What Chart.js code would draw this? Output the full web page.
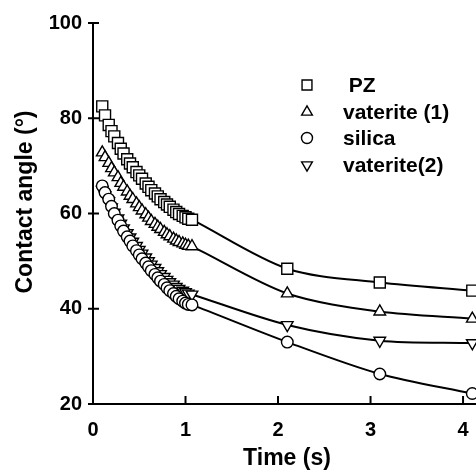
<!DOCTYPE html>
<html>
<head>
<meta charset="utf-8">
<script src="https://cdn.jsdelivr.net/npm/chart.js@4/dist/chart.umd.min.js"></script>
<style>
  html, body { margin: 0; padding: 0; background: #fff; overflow: hidden; }
  #wrap { width: 500px; height: 472px; }
</style>
</head>
<body>
<div id="wrap"><canvas id="grafica" width="500" height="472"></canvas></div>
<script>
// === Datos ===
const tiempos = [0.10, 0.13, 0.17, 0.20, 0.23, 0.27, 0.30, 0.33, 0.37, 0.40,
                 0.43, 0.47, 0.50, 0.53, 0.57, 0.60, 0.63, 0.67, 0.70, 0.73,
                 0.77, 0.80, 0.83, 0.87, 0.90, 0.93, 0.97, 1.00, 1.03, 1.07,
                 2.10, 3.10, 4.10];

const pz = [82.5, 80.6, 78.6, 77.3, 76.2, 74.8, 73.6, 72.6, 71.4, 70.5,
            69.7, 68.7, 68.0, 67.3, 66.3, 65.6, 64.9, 64.2, 63.6, 63.0,
            62.4, 61.9, 61.4, 60.8, 60.3, 59.9, 59.5, 59.2, 58.9, 58.7,
            48.4, 45.5, 43.8];

const vaterita1 = [72.8, 71.8, 70.6, 69.5, 68.6, 67.6, 66.4, 65.6, 64.6, 63.7,
                   63.0, 62.1, 61.3, 60.6, 59.8, 59.1, 58.4, 57.8, 57.2, 56.7,
                   56.1, 55.6, 55.2, 54.7, 54.3, 54.0, 53.7, 53.4, 53.2, 53.1,
                   43.2, 39.4, 37.9];

const silica = [65.8, 64.4, 63.0, 61.5, 60.0, 58.6, 57.4, 56.3, 55.1, 54.2,
                53.2, 52.2, 51.3, 50.5, 49.6, 48.8, 48.0, 47.2, 46.5, 45.8,
                45.1, 44.4, 43.8, 43.2, 42.6, 42.1, 41.6, 41.2, 40.9, 40.8,
                33.0, 26.3, 22.2];

const vaterita2 = [65.0, 63.8, 62.6, 61.3, 60.2, 59.0, 57.9, 56.9, 55.9, 55.0,
                   54.1, 53.2, 52.4, 51.6, 50.8, 50.0, 49.3, 48.6, 47.9, 47.3,
                   46.7, 46.1, 45.6, 45.1, 44.6, 44.2, 43.8, 43.5, 43.2, 43.0,
                   36.6, 33.3, 32.8];

const etiquetas = [' PZ', 'vaterite (1)', 'silica', 'vaterite(2)'];
const ticksX = [0, 1, 2, 3, 4];
const ticksY = [20, 40, 60, 80, 100];

const FUENTE = 'Liberation Sans, Arial, Helvetica, sans-serif';

const puntos = (ys) => tiempos.map((t, i) => ({ x: t, y: ys[i] }));

const serie = (label, ys, estilo, radio, rotacion) => ({
  label: label,
  data: puntos(ys),
  borderColor: '#000',
  borderWidth: 2,
  pointStyle: estilo,
  pointRadius: radio,
  pointRotation: rotacion,
  pointBackgroundColor: '#fff',
  pointBorderColor: '#000',
  pointBorderWidth: 1.4,
  tension: 0.3,
  fill: false
});

// === Ticks que cruzan el eje, títulos y leyenda ===
const extras = {
  id: 'extras',
  afterDraw(chart) {
    const ctx = chart.ctx;
    const xs = chart.scales.x;
    const ys = chart.scales.y;
    const area = chart.chartArea;
    ctx.save();
    ctx.strokeStyle = '#000';
    ctx.lineWidth = 2;
    ticksY.forEach(v => {
      const py = ys.getPixelForValue(v);
      ctx.beginPath();
      ctx.moveTo(area.left - 5, py);
      ctx.lineTo(area.left + 6, py);
      ctx.stroke();
    });
    ticksX.forEach(v => {
      const px = xs.getPixelForValue(v);
      ctx.beginPath();
      ctx.moveTo(px, area.bottom + 1);
      ctx.lineTo(px, area.bottom - 8);
      ctx.stroke();
    });

    // títulos de ejes
    ctx.fillStyle = '#000';
    ctx.font = 'bold 23px ' + FUENTE;
    ctx.textAlign = 'center';
    ctx.textBaseline = 'middle';
    ctx.fillText('Time (s)', 287, 459);
    ctx.save();
    ctx.translate(26, 202);
    ctx.rotate(-Math.PI / 2);
    ctx.fillText('Contact angle (°)', 0, 0);
    ctx.restore();

    // leyenda
    const filas = [85, 112, 138, 165];
    chart.data.datasets.forEach((ds, i) => {
      const y = filas[i];
      ctx.lineWidth = 1.4;
      ctx.strokeStyle = '#000';
      ctx.fillStyle = '#fff';
      Chart.helpers.drawPoint(ctx, {
        pointStyle: ds.pointStyle,
        rotation: ds.pointRotation,
        radius: ds.pointStyle === 'rect' ? 7 : (ds.pointStyle === 'circle' ? 5.5 : 6.2),
        borderWidth: 1.4
      }, 307, y);
      ctx.fillStyle = '#000';
      ctx.font = 'bold 21px ' + FUENTE;
      ctx.textAlign = 'left';
      ctx.textBaseline = 'middle';
      ctx.fillText(ds.label, 343, y + 1);
    });
    ctx.restore();
  }
};

new Chart(document.getElementById('grafica'), {
  type: 'line',
  data: {
    datasets: [
      serie(etiquetas[0], pz, 'rect', 7.8, 0),
      serie(etiquetas[1], vaterita1, 'triangle', 6.7, 0),
      serie(etiquetas[2], silica, 'circle', 5.8, 0),
      serie(etiquetas[3], vaterita2, 'triangle', 6.7, 180)
    ]
  },
  options: {
    responsive: false,
    animation: false,
    layout: { padding: { left: 0, top: 20, right: 3, bottom: 0 } },
    plugins: {
      legend: { display: false },
      tooltip: { enabled: false }
    },
    scales: {
      x: {
        type: 'linear',
        min: 0,
        max: 4.3,
        grid: { display: false, drawTicks: false },
        border: { display: true, color: '#000', width: 2 },
        afterBuildTicks: (s) => { s.ticks = ticksX.map(v => ({ value: v })); },
        afterFit: (s) => { s.height = 68; },
        ticks: {
          padding: 14,
          color: '#000',
          font: { family: FUENTE, size: 20, weight: 'bold' }
        }
      },
      y: {
        min: 20,
        max: 100,
        grid: { display: false, drawTicks: false },
        border: { display: true, color: '#000', width: 2 },
        afterBuildTicks: (s) => { s.ticks = ticksY.map(v => ({ value: v })); },
        afterFit: (s) => { s.width = 93; },
        ticks: {
          padding: 11,
          color: '#000',
          font: { family: FUENTE, size: 20, weight: 'bold' }
        }
      }
    }
  },
  plugins: [extras]
});
</script>
</body>
</html>
